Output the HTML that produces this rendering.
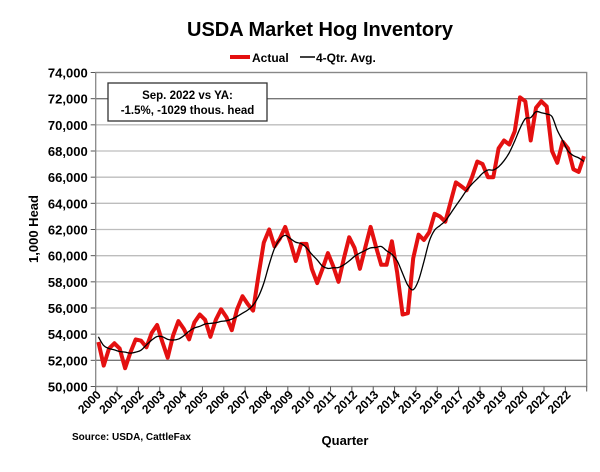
<!DOCTYPE html>
<html><head><meta charset="utf-8"><style>
body{margin:0;background:#fff;font-family:"Liberation Sans",Arial,sans-serif}
</style></head><body>
<svg id="s" width="600" height="467" xmlns="http://www.w3.org/2000/svg" font-family="Liberation Sans, Arial, sans-serif" font-weight="bold"></svg>
<script>
const L=95.7,R=586.7,T=72.5,B=386.5,N=92;
const y=v=>B-(v-50000)/24000*(B-T);
const x=i=>L+(i+0.5)*(R-L)/N;
const d=[53400,51600,52900,53300,52900,51400,52600,53600,53500,53000,54100,54700,53400,52200,53900,55000,54400,53600,54900,55500,55100,53800,55100,55900,55300,54300,55900,56900,56300,55800,58500,61000,62000,60700,61300,62200,61000,59600,60900,60900,59000,57900,59000,60200,59200,58000,59800,61400,60600,59000,60600,62200,60700,59300,59300,61100,58700,55500,55600,59800,61600,61200,61800,63200,63000,62600,64100,65600,65300,65000,66000,67200,67000,66000,66000,68200,68800,68500,69500,72100,71800,68800,71300,71800,71400,68000,67100,68700,68200,66600,66400,67600];
const pre=[54300,53800,53700];
let s='';
s+=`<text x="320" y="36" text-anchor="middle" font-size="20">USDA Market Hog Inventory</text>`;
s+=`<line x1="230" y1="57" x2="250" y2="57" stroke="#e41010" stroke-width="4"/><text x="252" y="62" font-size="12">Actual</text>`;
s+=`<line x1="300" y1="57" x2="315" y2="57" stroke="#000" stroke-width="1.5"/><text x="316" y="62" font-size="12">4-Qtr. Avg.</text>`;
for(let v=50000;v<=74000;v+=2000){const Y=y(v);
 s+=`<line x1="${L}" y1="${Y}" x2="${R}" y2="${Y}" stroke="${v==72000||v==52000?'#777':'#bdbdbd'}" stroke-width="1.3"/>`;
 s+=`<line x1="${L-5}" y1="${Y}" x2="${L}" y2="${Y}" stroke="#555"/>`;
 s+=`<text x="${L-8}" y="${Y+5}" text-anchor="end" font-size="13">${(v/1000).toFixed(0)},000</text>`;}
s+=`<rect x="${L}" y="${T}" width="${R-L}" height="${B-T}" fill="none" stroke="#888" stroke-width="1.3"/>`;
for(let k=0;k<=23;k++){const X=L+k*4*(R-L)/N;s+=`<line x1="${X}" y1="${B}" x2="${X}" y2="${B+5}" stroke="#555"/>`;
 if(k<23)s+=`<text transform="translate(${X+6},${B+9}) rotate(-45)" text-anchor="end" font-size="12">${2000+k}</text>`;}
s+=`<text transform="translate(38,229) rotate(-90)" text-anchor="middle" font-size="13">1,000 Head</text>`;
s+=`<text x="345" y="445" text-anchor="middle" font-size="13">Quarter</text>`;
s+=`<text x="72" y="440" font-size="10">Source: USDA, CattleFax</text>`;
const all=pre.concat(d);let ap=[];
for(let i=0;i<d.length;i++){const a=(all[i]+all[i+1]+all[i+2]+all[i+3])/4;ap.push([x(i),y(a)]);}
let ps=d.map((v,i)=>x(i).toFixed(1)+','+y(v).toFixed(1)).join(' ');
s+=`<polyline points="${ps}" fill="none" stroke="#e41010" stroke-width="4" stroke-linejoin="round"/>`;
let p='M'+ap[0][0]+','+ap[0][1];
for(let i=1;i<ap.length;i++){const p0=ap[Math.max(0,i-2)],p1=ap[i-1],p2=ap[i],p3=ap[Math.min(ap.length-1,i+1)];
 p+=` C${p1[0]+(p2[0]-p0[0])/6},${p1[1]+(p2[1]-p0[1])/6} ${p2[0]-(p3[0]-p1[0])/6},${p2[1]-(p3[1]-p1[1])/6} ${p2[0]},${p2[1]}`;}
s+=`<path d="${p}" fill="none" stroke="#000" stroke-width="1.3"/>`;
s+=`<rect x="108" y="83" width="159" height="38" fill="#fff" stroke="#333" stroke-width="1.3"/>`;
s+=`<text x="187.5" y="99" text-anchor="middle" font-size="11.5">Sep. 2022 vs YA:</text>`;
s+=`<text x="187.5" y="114" text-anchor="middle" font-size="11.5">-1.5%, -1029 thous. head</text>`;
document.getElementById('s').innerHTML=s;
</script>
</body></html>
